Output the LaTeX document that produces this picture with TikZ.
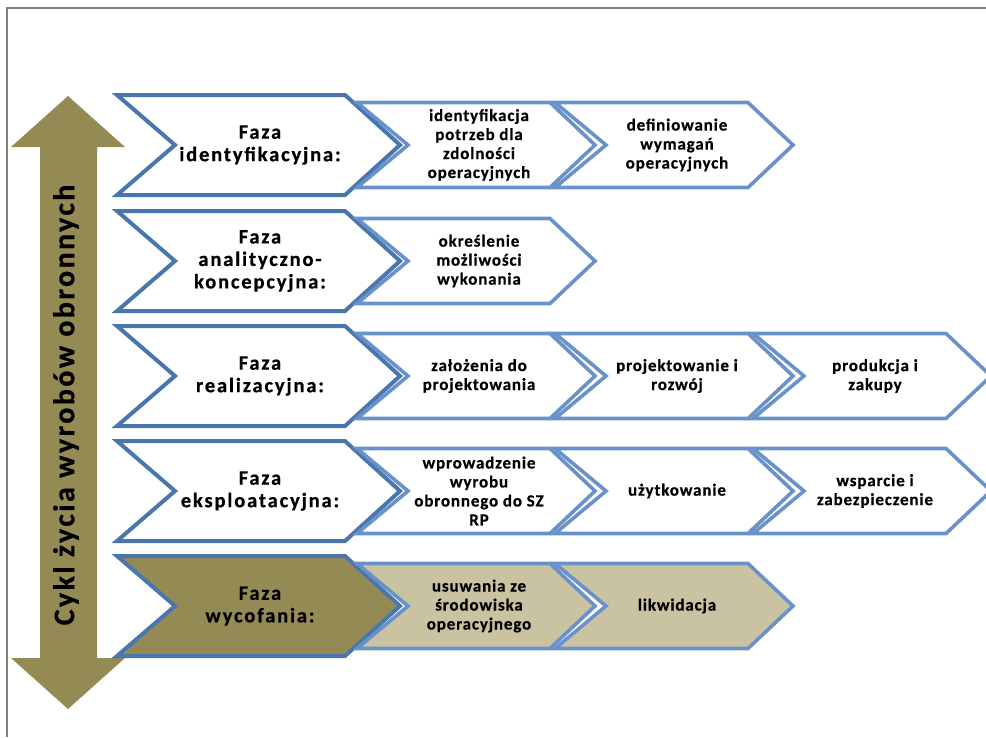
\documentclass[tikz,border=0pt]{standalone}
\usepackage{fontspec}
\setmainfont{Carlito}
\newfontfamily\phasefont[LetterSpace=9,BoldFeatures={FakeBold=0.6}]{Carlito}
\newfontfamily\subfont[LetterSpace=5,BoldFeatures={FakeBold=0.5}]{Carlito}
\newfontfamily\axisfont[LetterSpace=8,BoldFeatures={FakeBold=0.6}]{Carlito}
\definecolor{mainblue}{RGB}{74,118,174}
\definecolor{subblue}{RGB}{106,146,202}
\definecolor{olivedark}{RGB}{148,138,84}
\definecolor{olivelight}{RGB}{201,195,161}
\definecolor{framegray}{RGB}{128,128,128}
\tikzset{
  mainline/.style={draw=mainblue, line width=4pt, line join=miter},
  subline/.style={draw=subblue, line width=3.6pt, line join=miter},
  maintext/.style={align=center, inner sep=0pt, font=\phasefont\bfseries\fontsize{20.5}{22.5}\selectfont},
  subtext/.style={align=center, inner sep=0pt, font=\subfont\bfseries\fontsize{17}{19}\selectfont},
  axistext/.style={inner sep=0pt, font=\axisfont\bfseries\fontsize{30}{36}\selectfont},
  framerule/.style={draw=framegray, line width=2pt},
  bigarrow/.style={fill=olivedark}
}
\newcommand{\mainchev}[4][white]{%
  \draw[mainline, fill=#1] (117,#3-50) -- (345,#3-50) -- (400,#3) -- (345,#3+50) -- (117,#3+50) -- (175,#3) -- cycle;
  \node[maintext] (#2) at (260,#3) {#4};}
\newcommand{\subchev}[5][white]{%
  \draw[subline, fill=#1] (#3,#4-42.5) -- (#3+193,#4-42.5) -- (#3+238,#4) -- (#3+193,#4+42.5) -- (#3,#4+42.5) -- (#3+51,#4) -- cycle;
  \node[subtext] (#2) at (#3+122,#4) {#5};}
\begin{document}
\begin{tikzpicture}[x=1pt,y=-1pt]
\useasboundingbox (0,0) rectangle (986,737);
\draw[framerule] (7,737) -- (7,8) -- (986,8);
\fill[bigarrow] (68,96) -- (125,147) -- (97,147) -- (97,658) -- (125,658) -- (68,709) -- (11,658) -- (40,658) -- (40,147) -- (11,147) -- cycle;
\node[axistext, rotate=90] (axis) at (66,405) {Cykl życia wyrobów obronnych};
% row 1
\mainchev{p1}{145}{Faza\\identyfikacyjna:}
\subchev{s11}{357}{145}{identyfikacja\\potrzeb dla\\zdolności\\operacyjnych}
\subchev{s12}{555}{145}{definiowanie\\wymagań\\operacyjnych}
% row 2
\mainchev{p2}{261}{Faza\\analityczno-\\koncepcyjna:}
\subchev{s21}{357}{261}{określenie\\możliwości\\wykonania}
% row 3
\mainchev{p3}{376}{Faza\\realizacyjna:}
\subchev{s31}{357}{376}{założenia do\\projektowania}
\subchev{s32}{555}{376}{projektowanie i\\rozwój}
\subchev{s33}{753}{376}{produkcja i\\zakupy}
% row 4
\mainchev{p4}{491}{Faza\\eksploatacyjna:}
\subchev{s41}{357}{491}{wprowadzenie\\wyrobu\\obronnego do SZ\\RP}
\subchev{s42}{555}{491}{użytkowanie}
\subchev{s43}{753}{491}{wsparcie i\\zabezpieczenie}
% row 5
\mainchev[olivedark]{p5}{606}{Faza\\wycofania:}
\subchev[olivelight]{s51}{357}{606}{usuwania ze\\środowiska\\operacyjnego}
\subchev[olivelight]{s52}{555}{606}{likwidacja}
\end{tikzpicture}
\end{document}
